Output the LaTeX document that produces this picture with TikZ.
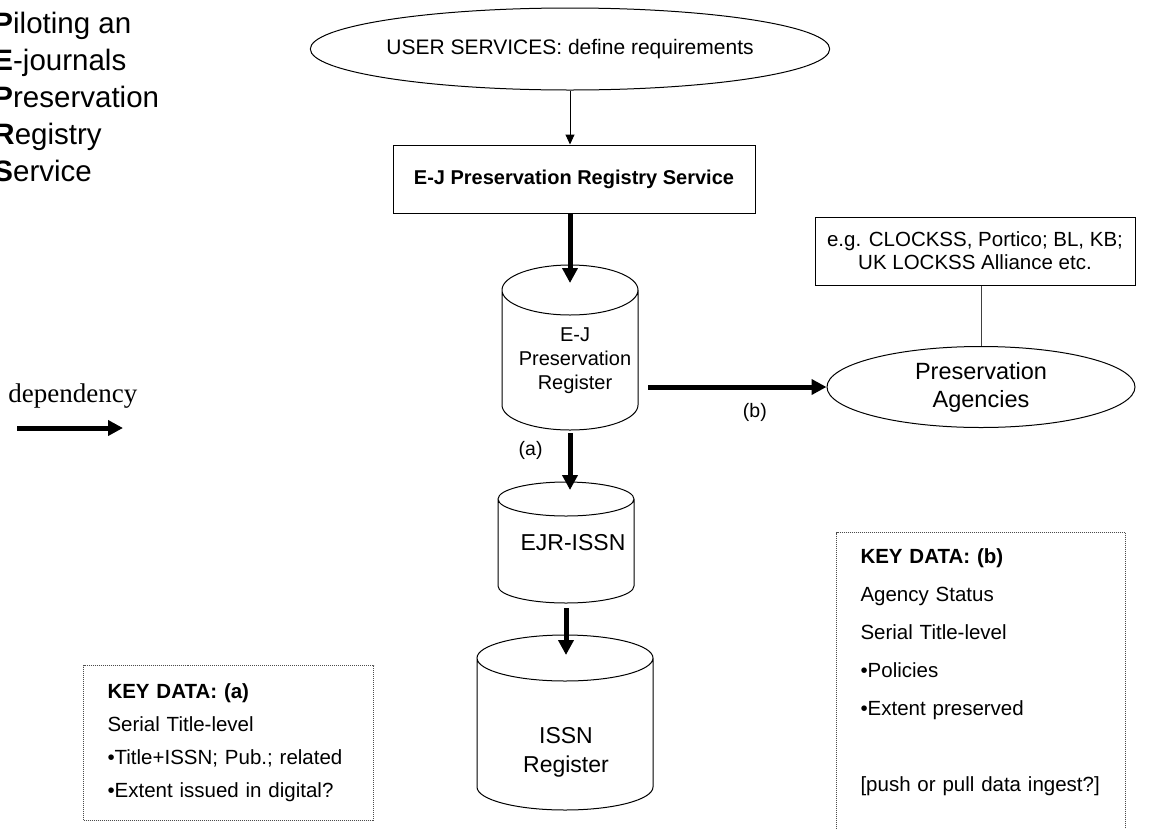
\documentclass[tikz,border=0pt]{standalone}
\usepackage{fontspec}
\setmainfont{Liberation Sans}
\newfontfamily\serifface{Liberation Serif}
\usetikzlibrary{calc,shapes.geometric,arrows.meta}

\begin{document}
\begin{tikzpicture}[x=1pt, y=-1pt, line width=1pt,
      oval/.style = {draw, ellipse, inner sep=0pt, align=center},
      box/.style = {draw, rectangle, inner sep=0pt, align=center},
      db/.style = {rectangle, inner sep=0pt, outer sep=0pt},
      dbtext/.style = {inner sep=0pt, align=center},
      keybox/.style = {draw=black!70, dash pattern=on 1pt off 1pt, anchor=north west,
        inner xsep=24pt, inner ysep=14pt, text width=242pt, align=left},
      tag/.style = {inner sep=0pt, font=\fontsize{19.5}{23}\selectfont},
      dep/.style = {line width=5pt, -{Triangle[length=15pt,width=15pt]}},
      flow/.style = {-{Triangle[length=10pt,width=9pt]}}]
    \useasboundingbox (0,0) rectangle (1149,828);

    % title and legend
    \node[anchor=north west, inner sep=0pt, align=left, font=\fontsize{29.5}{37}\selectfont]
      (title) at (-7,11.5) {\textbf{P}iloting an\\\textbf{E}-journals\\\textbf{P}reservation\\\textbf{R}egistry\\\textbf{S}ervice};
    \node[anchor=west, inner sep=0pt, font=\serifface\fontsize{27}{32}\selectfont] (legend) at (8,396) {dependency};
    \coordinate (legstart) at (17,428);
    \coordinate (legtip) at (123,428);
    \draw[dep] (legstart) -- (legtip);

    % nodes
    \node[oval, minimum width=430pt, minimum height=82pt, font=\fontsize{21}{25}\selectfont]
      (users) at (570,49) {USER SERVICES: define requirements};
    \node[box, minimum width=362pt, minimum height=68pt, font=\bfseries\fontsize{20}{24}\selectfont]
      (service) at (574,179) {E-J Preservation Registry Service};
    \node[db, minimum width=136pt, minimum height=165pt,
      label={[dbtext, xshift=5pt, yshift=-13.5pt, font=\fontsize{20}{24}\selectfont]center:E-J\\Preservation\\Register}]
      (ejr) at (570,347.5) {};
    \node[db, minimum width=136pt, minimum height=121pt,
      label={[dbtext, xshift=7pt, yshift=-0.5pt, font=\fontsize{23}{28}\selectfont]center:EJR-ISSN}]
      (ejrissn) at (566,542.5) {};
    \node[db, minimum width=176pt, minimum height=175pt,
      label={[dbtext, xshift=1pt, yshift=-30pt, font=\fontsize{23}{29}\selectfont]center:ISSN\\Register}]
      (issn) at (565,722.5) {};
    \node[oval, minimum width=308pt, minimum height=81pt, font=\fontsize{23.5}{28}\selectfont]
      (agencies) at (981,387) {Preservation\\Agencies};
    \node[box, minimum width=320pt, minimum height=68pt, font=\fontsize{20.5}{23}\selectfont]
      (examples) at (975,251) {e.g. CLOCKSS, Portico; BL, KB;\\UK LOCKSS Alliance etc.};

    % cylinder outlines
    \foreach \c/\ry in {ejr/25, ejrissn/17, issn/23}
      \draw let \p1 = (\c.north west), \p2 = (\c.south east), \n1 = {(\x2-\x1)/2} in
        (\x1,\y1-\ry pt) -- (\x1,\y2+\ry pt)
        arc[start angle=180, end angle=360, x radius=\n1, y radius=\ry pt] -- (\x2,\y1-\ry pt)
        (\x1+\n1,\y1-\ry pt) ellipse[x radius=\n1, y radius=\ry pt];

    % key data
    \node[keybox, minimum height=155pt, font=\fontsize{20.5}{33}\selectfont] (keya) at (83,665)
      {\textbf{KEY DATA: (a)}\\Serial Title-level\\•Title+ISSN; Pub.; related\\•Extent issued in digital?};
    \node[keybox, text width=241pt, inner ysep=16pt, text depth=300pt, font=\fontsize{20.5}{38}\selectfont] (keyb) at (836,532)
      {\textbf{KEY DATA: (b)}\\Agency Status\\Serial Title-level\\•Policies\\•Extent preserved\\[38pt]{[}push or pull data ingest?{]}};

    % edges
    \draw[flow] (users.south) -- (users.south |- service.north);
    \draw[dep, shorten >=-18pt] (ejr.north |- service.south) -- (ejr.north);
    \draw[dep, shorten <=3pt, shorten >=-8pt] (ejr.south) -- node[tag, pos=0.385, left=25pt] {(a)} (ejr.south |- ejrissn.north);
    \draw[dep, shorten <=5pt, shorten >=-20pt] (ejrissn.south) -- (ejrissn.south |- issn.north);
    \draw[dep, shorten <=10pt] (agencies.west -| ejr.east) -- node[tag, pos=0.62, yshift=-25pt] {(b)} (agencies.west);
    \draw[black!75] (agencies.north |- examples.south) -- (agencies.north);
  \end{tikzpicture}
\end{document}
